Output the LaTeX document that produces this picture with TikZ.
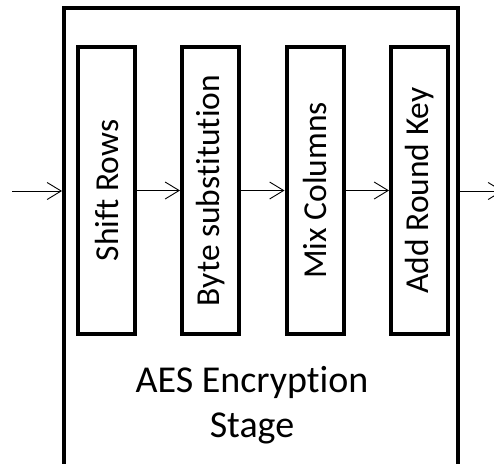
\documentclass[tikz,border=0pt]{standalone}
\usepackage{fontspec}
\setmainfont{Carlito}[Ligatures={NoCommon,NoRare}]
\usetikzlibrary{arrows.meta}
\begin{document}
\begin{tikzpicture}[x=1pt,y=-1pt,
  step box/.style={draw,line width=4pt,minimum width=287pt,minimum height=57pt,
    inner sep=0pt,rotate=90,font=\fontsize{33.5}{40}\selectfont},
  stage box/.style={draw,line width=4pt,minimum width=394pt,minimum height=462pt,inner sep=0pt},
  flow/.style={line width=0.9pt,-{Straight Barb[length=14pt,width=17pt,line width=0.9pt]}}]
 \useasboundingbox (0,0) rectangle (494,463);
 \clip (0,0) rectangle (494,463);
 % enclosing stage, cut off at the bottom
 \node[stage box] (stage) at (261,239) {};
 % the four steps of a round
 \node[step box] (sr)  at (106.5,190.5) {Shift Rows};
 \node[step box] (bs)  at (210.5,190.5) {Byte substitution};
 \node[step box] (mc)  at (315,190.5) {Mix Columns};
 \node[step box] (ark) at (419.5,190.5) {Add Round Key};
 \coordinate (in) at (12,191);
 \coordinate (out) at (503,191);
 \draw[flow] (in) -- (in -| stage.west);
 \draw[flow] (sr) -- (bs);
 \draw[flow] (bs) -- (mc);
 \draw[flow] (mc) -- (ark);
 \draw[flow] (out -| stage.east) -- (out);
 \node[align=center,font=\fontsize{38}{45}\selectfont] (title) at (252,405) {AES Encryption\\Stage};
\end{tikzpicture}
\end{document}
